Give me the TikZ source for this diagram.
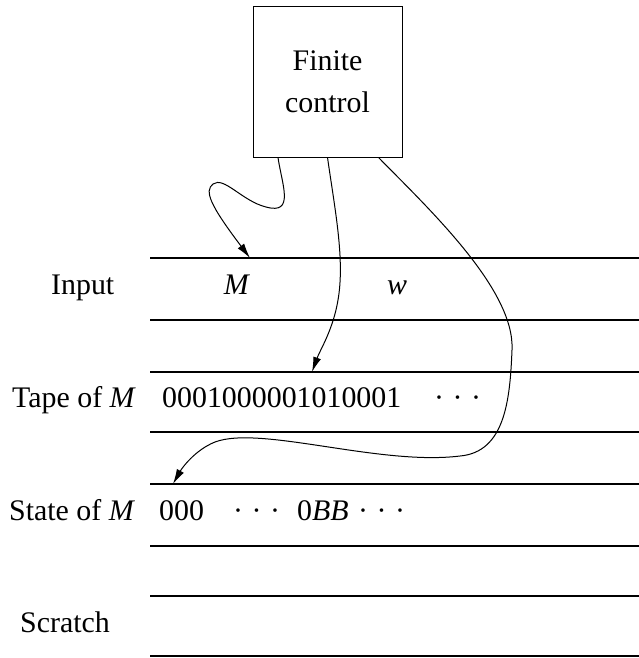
\documentclass[tikz,border=0pt]{standalone}
\usepackage{fontspec}
\setmainfont{Liberation Serif}
\usetikzlibrary{arrows.meta, positioning, calc}
\newcommand{\tdots}{\textperiodcentered\hspace{8.5bp}\textperiodcentered\hspace{8.5bp}\textperiodcentered}

\begin{document}
\begin{tikzpicture}[
  x=1bp, y=-1bp,
  ctrl/.style={rectangle, draw, line width=1bp, minimum width=149bp,
               minimum height=150bp, align=center, inner sep=0pt,
               font=\fontsize{30}{42}\selectfont},
  lbl/.style={font=\fontsize{30}{36}\selectfont, inner sep=0pt},
  trk/.style={line width=1.3bp},
  arr/.style={-{Latex[length=15bp,width=8bp]}, line width=1bp}
]
  \useasboundingbox (0,0) rectangle (639,658);
  \node[ctrl] (fc) at (327.5,82) {Finite\\control};
  \foreach \yy in {258,320,372,432,484,546,596,656}
    \draw[trk] (150,\yy) -- (639,\yy);
  \node[lbl, anchor=base west] (inp) at (51,294) {Input};
  \node[lbl, anchor=base west] (tape) at (12,407) {Tape of \textit{M}};
  \node[lbl, anchor=base west] (state) at (9,520) {State of \textit{M}};
  \node[lbl, anchor=base west] (scr) at (20,632) {Scratch};
  \node[lbl, anchor=base] (symM) at (237,294) {\textit{M}};
  \node[lbl, anchor=base] (symw) at (397,294) {\textit{w}};
  \node[lbl, anchor=base west] (tbits) at (162,407) {0001000001010001};
  \node[lbl, anchor=base west] (tdts) at (434,407) {\tdots};
  \node[lbl, anchor=base west] (s000) at (159,520) {000};
  \node[lbl, anchor=base west] (sdts) at (233,520) {\tdots};
  \node[lbl, anchor=base west] (s0BB) at (297,520) {0\textit{BB}};
  \node[lbl, anchor=base west] (sdtsb) at (358,520) {\tdots};
  \coordinate (hdIn) at (250,258);
  \coordinate (hdTape) at (312,372);
  \coordinate (hdState) at (173,484);
  \draw[arr] ($(fc.south west)!0.17!(fc.south east)$)
    .. controls (282,185) and (295,215) .. (266,207)
    .. controls (242,201) and (224,176) .. (213,184)
    .. controls (204,191) and (210,205) .. (hdIn);
  \draw[arr] ($(fc.south west)!0.5!(fc.south east)$)
    .. controls (335,210) and (345,260) .. (338,300)
    .. controls (333,330) and (320,350) .. (hdTape);
  \draw[arr] ($(fc.south west)!0.84!(fc.south east)$)
    .. controls (430,210) and (515,290) .. (512,350)
    .. controls (510,400) and (505,452) .. (460,456)
    .. controls (380,466) and (260,425) .. (215,442)
    .. controls (195,450) and (182,468) .. (hdState);
\end{tikzpicture}
\end{document}
